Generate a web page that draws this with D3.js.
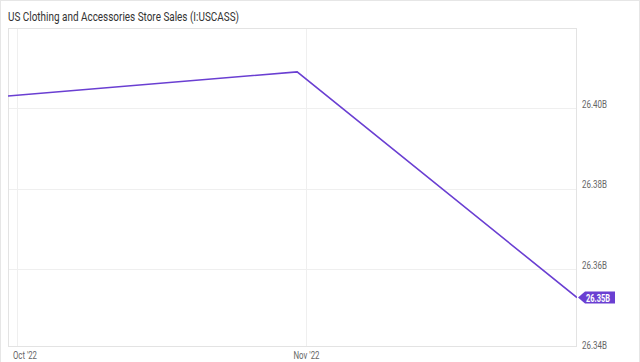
<!DOCTYPE html>
<html><head><meta charset="utf-8">
<script src="https://cdn.jsdelivr.net/npm/d3@7"></script>
<style>body{margin:0;background:#fff}svg{display:block}text{font-family:Roboto,"Noto Sans",sans-serif}</style>
</head><body><svg id="c" width="640" height="362"></svg>
<script>
const title = "US Clothing and Accessories Store Sales (I:USCASS)";
const dates = ["2022-09-30", "2022-10-31", "2022-11-30"];
const values = [26.403, 26.409, 26.353];
const yTicks = [26.34, 26.36, 26.38, 26.40];
const xTicks = ["2022-10-01", "2022-11-01"];
const xTickLabels = ["Oct '22", "Nov '22"];
const lastLabel = "26.35B";

const parse = d3.timeParse("%Y-%m-%d");
const W = 640, H = 362;
const L = 8, R = 577, T = 28, B = 347;
const svg = d3.select("#c");

svg.append("rect").attr("x",0.5).attr("y",0.5).attr("width",W-1).attr("height",H+5)
  .attr("fill","#fff").attr("stroke","#e6e6e6");

const x = d3.scaleTime().domain([parse(dates[0]), parse(dates[dates.length-1])]).range([L, R]);
const y = d3.scaleLinear().domain([26.34, 26.42]).range([350, 27.5]);

svg.append("text").attr("x",8).attr("y",20.5).attr("font-size",13).attr("fill","#333")
  .attr("textLength",231).attr("lengthAdjust","spacingAndGlyphs").text(title);

const g = svg.append("g");
g.append("defs").append("clipPath").attr("id","clip").append("rect")
  .attr("x",L).attr("y",T).attr("width",R-L).attr("height",B-T);

// gridlines
g.selectAll(".hg").data(yTicks.filter(v=>y(v)<B)).join("line")
  .attr("x1",L).attr("x2",R).attr("y1",d=>Math.round(y(d))+0.5).attr("y2",d=>Math.round(y(d))+0.5)
  .attr("stroke","#efefef");
g.selectAll(".vg").data(xTicks).join("line")
  .attr("x1",d=>Math.round(x(parse(d)))+0.5).attr("x2",d=>Math.round(x(parse(d)))+0.5)
  .attr("y1",T).attr("y2",B).attr("stroke","#efefef");
// plot border
g.append("rect").attr("x",L+0.5).attr("y",T+0.5).attr("width",R-L-1).attr("height",B-T-1)
  .attr("fill","none").attr("stroke","#e3e3e3");

// y labels
g.selectAll(".yl").data(yTicks).join("text")
  .attr("x",582).attr("y",d=>Math.min(y(d),349)-0.5).attr("font-size",11).attr("fill","#666")
  .attr("textLength",25).attr("lengthAdjust","spacingAndGlyphs")
  .text(d=>d.toFixed(2)+"B");

// x labels
g.selectAll(".xl").data(xTicks).join("text")
  .attr("x",(d,i)=> i===0 ? 13 : x(parse(d)))
  .attr("text-anchor",(d,i)=> i===0 ? "start" : "middle")
  .attr("y",359).attr("font-size",11).attr("fill","#666")
  .attr("textLength",(d,i)=> i===0 ? 24 : 26).attr("lengthAdjust","spacingAndGlyphs")
  .text((d,i)=>xTickLabels[i]);

// line
const pts = dates.map((d,i)=>[parse(d), values[i]]);
g.append("path").datum(pts).attr("clip-path","url(#clip)")
  .attr("fill","none").attr("stroke","#6a3fd2").attr("stroke-width",1.6)
  .attr("d", d3.line().x(d=>x(d[0])).y(d=>y(d[1])));

// last value badge
const ly = y(values[values.length-1]);
const bx = R + 1;
g.append("path").attr("fill","#6a3fd2")
  .attr("d",`M${bx},${ly} L${bx+7},${ly-6} L${bx+37},${ly-6} L${bx+37},${ly+6} L${bx+7},${ly+6} Z`);
g.append("text").attr("x",bx+8).attr("y",ly+4).attr("font-size",11).attr("font-weight","bold")
  .attr("fill","#fff").attr("textLength",24).attr("lengthAdjust","spacingAndGlyphs").text(lastLabel);
</script></body></html>
